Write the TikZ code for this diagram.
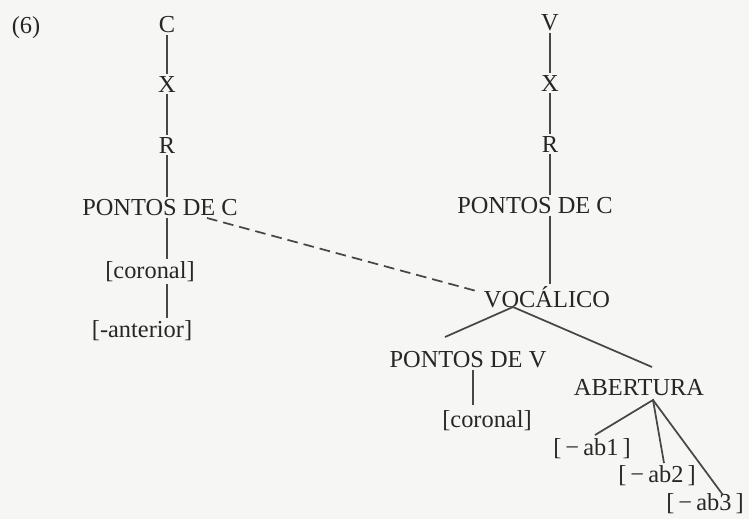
\documentclass[tikz,border=0pt]{standalone}
\usepackage{fontspec}
\setmainfont{Liberation Serif}
\usetikzlibrary{calc}
\definecolor{ink}{HTML}{262626}
\definecolor{paper}{HTML}{F6F6F4}
\tikzset{
  lbl/.style={anchor=base, inner sep=1.5pt, text=ink, font=\fontsize{18.3}{22}\selectfont},
  edge/.style={draw=ink!85, line width=1.3pt},
  dashedge/.style={edge, dash pattern=on 8pt off 4.5pt}
}
\begin{document}
\begin{tikzpicture}[x=0.75pt,y=-0.75pt]
\fill[paper] (0,0) rectangle (749,519);
\useasboundingbox (0,0) rectangle (749,519);
% labels
\node[lbl] (six) at (26,33) {(6)};
\node[lbl] (C) at (167,32) {C};
\node[lbl] (X) at (167,92) {X};
\node[lbl] (R) at (167,153) {R};
\node[lbl] (pcl) at (160,215) {PONTOS DE C};
\node[lbl] (corl) at (150,278) {[coronal]};
\node[lbl] (ant) at (142,337) {[-anterior]};
\node[lbl] (V) at (550,30) {V};
\node[lbl] (X2) at (550,91) {X};
\node[lbl] (R2) at (550,152) {R};
\node[lbl] (pcr) at (535,213) {PONTOS DE C};
\node[lbl] (voc) at (547,307) {VOCÁLICO};
\node[lbl] (pv) at (468,367) {PONTOS DE V};
\node[lbl] (cr) at (487,427) {[coronal]};
\node[lbl] (ab) at (639,395) {ABERTURA};
\node[lbl] (ab1) at (592,455) {[\,−\,ab1\,]};
\node[lbl] (ab2) at (657,482) {[\,−\,ab2\,]};
\node[lbl] (ab3) at (705,510) {[\,−\,ab3\,]};
% left column
\draw[edge] (C.south) -- (X.north);
\draw[edge] (X.south) -- (R.north);
\draw[edge] (R.south) -- (R.south |- pcl.north);
\draw[edge] (pcl.south -| R.south) -- (corl.north -| R.south);
\draw[edge] (corl.south -| R.south) -- (ant.north -| R.south);
% right column
\draw[edge] (V.south) -- (X2.north);
\draw[edge] (X2.south) -- (R2.north);
\draw[edge] (R2.south) -- (R2.south |- pcr.north);
\draw[edge] (pcr.south -| R2.south) -- (voc.north -| R2.south);
% dashed association
\draw[dashedge] ($(pcl.base)+(47,3)$) -- ($(voc.base)+(-67,-15)$);
% vocalico branches
\draw[edge] ($(pv.base)+(-23,-30)$) -- ($(voc.base)+(-34,0)$) -- ($(ab.base)+(13,-28)$);
\draw[edge] ($(pv.base)+(5,3)$) -- ($(cr.base)+(-14,-22)$);
% abertura branches
\draw[edge] ($(ab1.base)+(3,-20)$) -- ($(ab.base)+(14,5)$) -- ($(ab2.base)+(7,-19)$);
\draw[edge] ($(ab.base)+(14,5)$) -- ($(ab3.base)+(18,-15)$);
\end{tikzpicture}
\end{document}
